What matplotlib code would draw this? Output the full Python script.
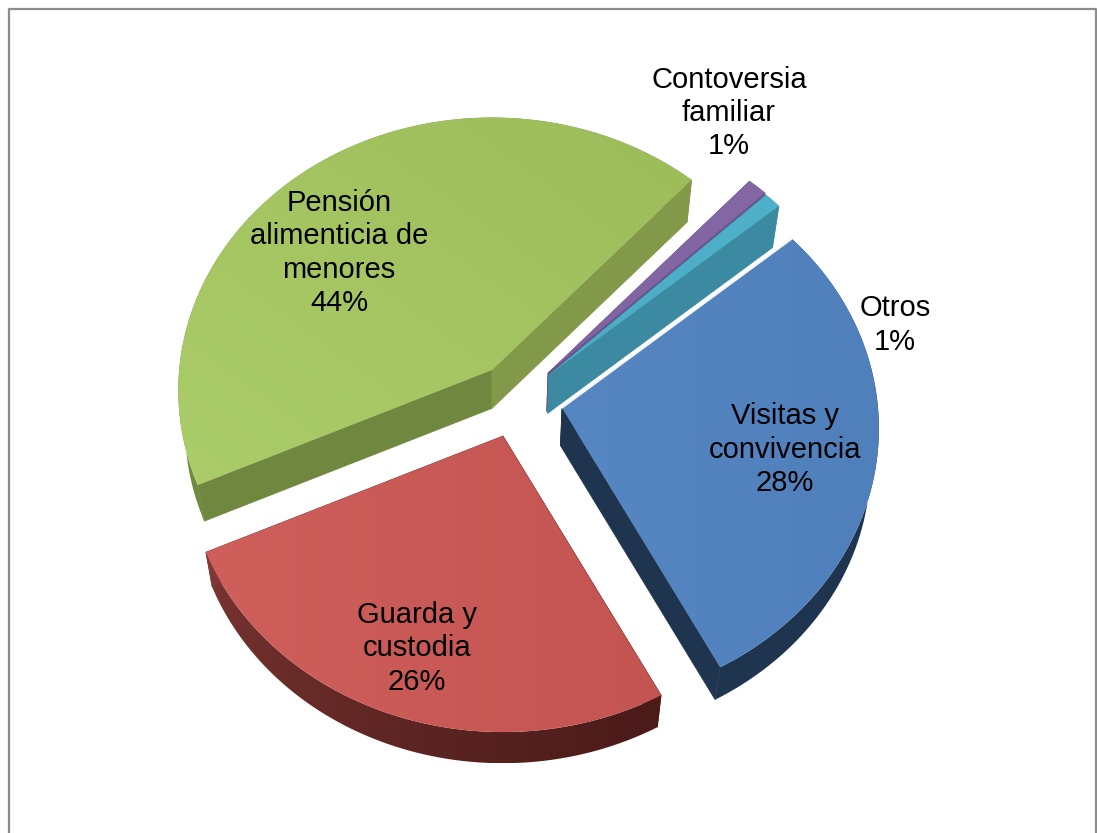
import numpy as np
import matplotlib
matplotlib.use('Agg')
import matplotlib.pyplot as plt
from matplotlib.patches import Polygon

plt.rcParams['font.family'] = ['Liberation Sans', 'DejaVu Sans']

# chart data, clockwise from the start angle
categories = ['Visitas y\nconvivencia', 'Guarda y\ncustodia', 'Pensión\nalimenticia de\nmenores',
              'Contoversia\nfamiliar', 'Otros']
values = [28.45, 26.0, 43.5, 1.1, 0.95]

startAngle = 49.7
semiX = 316.0
semiY = 274.0
persp = 0.0745

# exploded centre of each slice, in pixels
apexes = [(562, 408), (503, 436), (492, 370), (548, 373), (549, 375)]
sliceScale = [1, 1, 0.99, 1, 1]
# top face gradient: (first colour, second colour, direction)
topCols = [('#5687C3', '#4F80BB', (1, 0)), ('#CF5F5B', '#C45451', (1, 0)), ('#ABCD69', '#9CBC5A', (1, -1)),
           ('#8064A2', '#8468A6', (1, 0)), ('#4BACC6', '#4FB0CA', (1, 0))]
# outer wall colours, left to right, then wall at start edge and wall at end edge
arcCols = [('#1F344E', '#1F344E'), ('#7D3734', '#4B1B19'), ('#6F8C3E', '#6F8C3E'), ('#6B5289', '#6B5289'), ('#3C8AA1', '#3C8AA1')]
startWall = ['#1F344E', '#4B1B19', '#708740', '#6B5289', '#3C8AA1']
endWall = ['#1F344E', '#7D3734', '#83994A', '#6B5289', '#3C8AA1']
labelPos = [(785, 449.5), (417, 648.5), (339, 253), (729, 113), (895, 325)]
drawOrder = [2, 3, 4, 0, 1]


def project(theta, apex, scale):
    u = np.sin(np.radians(theta))
    v = np.cos(np.radians(theta))
    w = 1 + persp * v
    return apex[0] + scale * semiX * u / w, apex[1] - scale * semiY * v / w


def lower(x, y):
    # the underside of the pie, seen a little smaller and lower
    return x - 0.022 * (x - 490), y + 32 + 0.02 * (690 - y)


def gradientFace(ax, pts, c1, c2, direction, zorder=3, power=1.0):
    x0, y0 = pts.min(axis=0)
    x1, y1 = pts.max(axis=0)
    gx, gy = np.meshgrid(np.linspace(0, 1, 120), np.linspace(0, 1, 120))
    t = gx * direction[0] + gy * direction[1]
    t = ((t - t.min()) / max(t.max() - t.min(), 1e-6)) ** power
    a = np.array(matplotlib.colors.to_rgb(c1))
    b = np.array(matplotlib.colors.to_rgb(c2))
    img = a + (b - a) * t[..., None]
    im = ax.imshow(img, extent=(x0, x1, y1, y0), aspect='auto', interpolation='bilinear', zorder=zorder)
    im.set_clip_path(Polygon(pts, closed=True, transform=ax.transData))


fig = plt.figure(figsize=(10.97, 8.33), dpi=100)
ax = fig.add_axes([0, 0, 1, 1])

edges = startAngle + np.cumsum([0] + values) * 3.6
z = 3
for i in drawOrder:
    apex = apexes[i]
    th = np.linspace(edges[i], edges[i + 1], 160)
    px, py = project(th, apex, sliceScale[i])
    bx, by = lower(px, py)
    ox, oy = lower(apex[0], apex[1])
    # outer wall, then the two radial walls, then the top face
    wall = np.vstack([np.column_stack([px, py]), np.column_stack([bx, by])[::-1]])
    gradientFace(ax, wall, arcCols[i][0], arcCols[i][1], (1, 0), zorder=z, power=0.55)
    ax.add_patch(Polygon([apex, (px[0], py[0]), (bx[0], by[0]), (ox, oy)], fc=startWall[i], ec=startWall[i], lw=0.5, zorder=z))
    ax.add_patch(Polygon([apex, (px[-1], py[-1]), (bx[-1], by[-1]), (ox, oy)], fc=endWall[i], ec=endWall[i], lw=0.5, zorder=z))
    top = np.vstack([[apex], np.column_stack([px, py])])
    gradientFace(ax, top, topCols[i][0], topCols[i][1], topCols[i][2], zorder=z + 0.5)
    if i == 0:
        ax.plot([apex[0], px[0]], [apex[1], py[0]], color='white', lw=1, zorder=z + 0.6)
    z += 1

for i in range(len(values)):
    ax.text(labelPos[i][0], labelPos[i][1], '%s\n%d%%' % (categories[i], round(values[i])), ha='center', va='center',
            fontsize=21, color='black', linespacing=1.235, zorder=20)

# chart area frame, open at the bottom
ax.plot([8.5, 8.5, 1096, 1096], [833, 8.5, 8.5, 833], color='#8C8C8C', lw=1.6, zorder=21)

ax.set_xlim(0, 1097)
ax.set_ylim(833, 0)
ax.axis('off')
fig.savefig('out.png', dpi=100)
